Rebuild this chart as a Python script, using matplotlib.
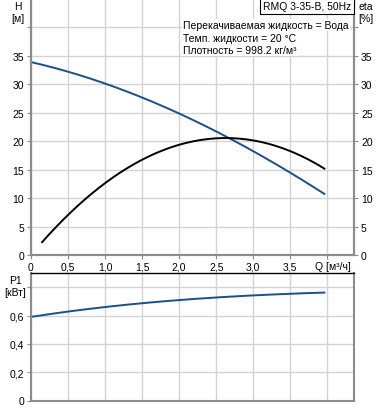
import matplotlib
matplotlib.use("Agg")
import matplotlib.pyplot as plt
import numpy as np

plt.rcParams['font.family'] = ['Liberation Sans', 'DejaVu Sans']

# Data
q_head = [0.0, 0.5, 1.0, 1.5, 2.0, 2.5, 3.0, 3.5, 3.96]
head = [33.8, 32.4, 30.2, 27.6, 24.8, 21.6, 18.3, 14.7, 10.6]

q_eta = [0.15, 0.5, 1.0, 1.5, 2.0, 2.5, 2.65, 3.0, 3.5, 3.96]
eta = [2.2, 7.1, 12.7, 16.7, 19.4, 20.4, 20.5, 20.2, 18.4, 15.1]

q_p1 = [0.0, 0.5, 1.0, 1.5, 2.0, 2.5, 3.0, 3.5, 3.96]
p1 = [0.59, 0.628, 0.66, 0.686, 0.71, 0.726, 0.743, 0.753, 0.762]

x_ticks = [0, 0.5, 1.0, 1.5, 2.0, 2.5, 3.0, 3.5, 4.0]
x_labels = ['0', '0,5', '1,0', '1,5', '2,0', '2,5', '3,0', '3,5', '']
h_ticks = [0, 5, 10, 15, 20, 25, 30, 35, 40]
h_labels = ['0', '5', '10', '15', '20', '25', '30', '35', '']
p_ticks = [0, 0.2, 0.4, 0.6, 0.8]
p_labels = ['0', '0,2', '0,4', '0,6', '']

blue = '#1b4f8c'
grid_c = '#d3d3d3'
spine_c = '#8c8c8c'
fs = 7.5


def smooth(x, y, n=200):
    x = np.asarray(x); y = np.asarray(y)
    c = np.polyfit(x, y, 3)
    xs = np.linspace(x.min(), x.max(), n)
    return xs, np.polyval(c, xs)


fig = plt.figure(figsize=(3.78, 4.10), dpi=100)
W, H = 378, 410
left = 31 / W
right = 354 / W
ax = fig.add_axes([left, 1 - 256 / H, right - left, 256 / H])
ax2 = ax.twinx()
axp = fig.add_axes([left, 1 - 401.5 / H, right - left, (401.5 - 274) / H])

xmax = 4.36
for a in (ax, axp):
    a.set_xlim(0, xmax)
    a.set_xticks(x_ticks)
    a.grid(True, color=grid_c, lw=1.0)
    a.set_axisbelow(True)

ax.set_ylim(0, 45)
ax2.set_ylim(0, 45)
ax.set_yticks(h_ticks)
ax.set_yticklabels(h_labels)
ax2.set_yticks(h_ticks)
ax2.set_yticklabels(h_labels)
ax.set_xticklabels(x_labels)

axp.set_ylim(0, 0.9)
axp.set_yticks(p_ticks)
axp.set_yticklabels(p_labels)
axp.set_xticklabels([])

for a in (ax, ax2, axp):
    a.tick_params(labelsize=fs, length=3, width=0.8, color=spine_c, pad=2)
axp.tick_params(axis='x', length=0)

# spines
ax.spines['top'].set_visible(False)
ax2.spines['top'].set_visible(False)
for a in (ax, ax2):
    for s in ('left', 'right', 'bottom'):
        a.spines[s].set_color(spine_c)
        a.spines[s].set_linewidth(1.5)
for s in ('left', 'right', 'bottom'):
    axp.spines[s].set_color(spine_c)
    axp.spines[s].set_linewidth(1.5)
axp.spines['top'].set_color('black')
axp.spines['top'].set_linewidth(1.0)

xs, ys = smooth(q_head, head)
ax.plot(xs, ys, color=blue, lw=1.4)
xs, ys = smooth(q_eta, eta)
ax2.plot(xs, ys, color='black', lw=1.4)
xs, ys = smooth(q_p1, p1)
axp.plot(xs, ys, color=blue, lw=1.4)

# axis titles
fig.text(18 / W, 1 - 7 / H, 'H', fontsize=fs, ha='center', va='center')
fig.text(18 / W, 1 - 19 / H, '[м]', fontsize=fs, ha='center', va='center')
fig.text(366 / W, 1 - 7 / H, 'eta', fontsize=fs, ha='center', va='center')
fig.text(366 / W, 1 - 19 / H, '[%]', fontsize=fs, ha='center', va='center')
fig.text(15 / W, 1 - 281 / H, 'P1', fontsize=fs, ha='center', va='center')
fig.text(15 / W, 1 - 293 / H, '[кВт]', fontsize=fs, ha='center', va='center')
fig.text(333 / W, 1 - 267 / H, 'Q [м³/ч]', fontsize=fs, ha='center', va='center')

# title box
fig.text(307 / W, 1 - 7 / H, 'RMQ 3-35-B, 50Hz', fontsize=fs, ha='center', va='center',
         bbox=dict(boxstyle='square,pad=0.25', fc='white', ec='black', lw=0.8))

info = ['Перекачиваемая жидкость = Вода',
        'Темп. жидкости = 20 °C',
        'Плотность = 998.2 кг/м³']
for i, t in enumerate(info):
    fig.text(183 / W, 1 - (26 + 12.5 * i) / H, t, fontsize=fs, ha='left', va='center',
             bbox=dict(boxstyle='square,pad=0.1', fc='white', ec='none'))

fig.savefig('out.png', dpi=100)
